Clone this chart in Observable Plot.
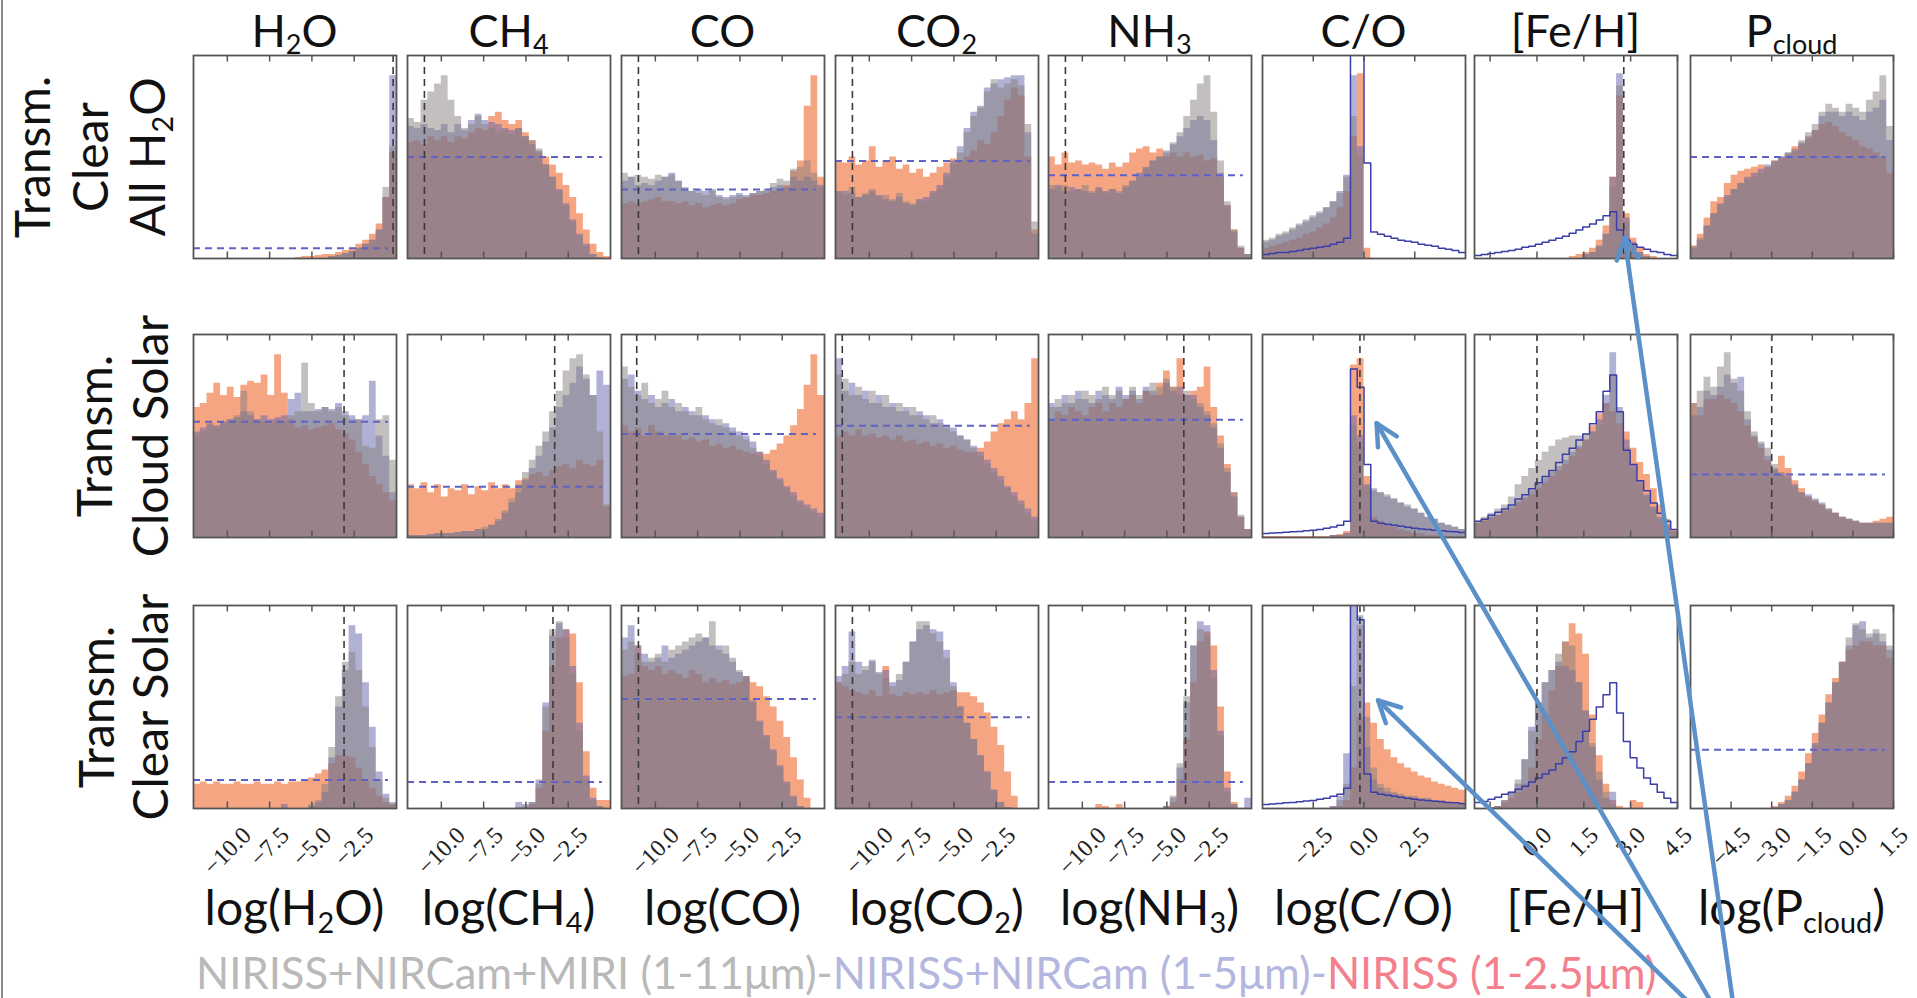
<!DOCTYPE html>
<html><head><meta charset="utf-8">
<script src="https://cdn.jsdelivr.net/npm/d3@7"></script>
<script src="https://cdn.jsdelivr.net/npm/@observablehq/plot@0.6"></script>
<style>
body{margin:0;background:#fff;}
#page{position:relative;width:1917px;height:998px;overflow:hidden;font-family:Lato,"Open Sans",sans-serif;color:#111;background:#fff;}
.panel{position:absolute;}
.panel svg{overflow:visible;background:transparent;}
.title{position:absolute;transform:translate(-50%,-50%);white-space:nowrap;font-size:45px;line-height:1;}
.rowlab{position:absolute;transform:translate(-50%,-50%) rotate(-90deg);white-space:nowrap;font-size:48px;line-height:1;}
.xlab{position:absolute;transform:translate(-50%,-50%);white-space:nowrap;font-size:48px;line-height:1;}
.legend{position:absolute;white-space:nowrap;font-size:43.5px;line-height:1;transform:translateY(-50%);}
sub{font-size:0.6em;vertical-align:-0.28em;line-height:0;}
</style></head><body><div id="page"></div>
<script>
// ---------------- categories / labels ----------------
const columnTitles = ["H<sub>2</sub>O","CH<sub>4</sub>","CO","CO<sub>2</sub>","NH<sub>3</sub>","C/O","[Fe/H]","P<sub>cloud</sub>"];
const axisLabels = ["log(H<sub>2</sub>O)","log(CH<sub>4</sub>)","log(CO)","log(CO<sub>2</sub>)","log(NH<sub>3</sub>)","log(C/O)","[Fe/H]","log(P<sub>cloud</sub>)"];
const rowLabels = [["Transm.","Clear","All H<sub>2</sub>O"],["Transm.","Cloud Solar"],["Transm.","Clear Solar"]];
const legendParts = [["NIRISS+NIRCam+MIRI (1-11μm)-","#b9b9b9"],["NIRISS+NIRCam (1-5μm)-","#b3b7e0"],["NIRISS (1-2.5μm)","#f4808e"]];
const xDomains = [[-12,0],[-12,0],[-12,0],[-12,0],[-12,0],[-5,5],[-2,4.5],[-6,1.5]];
const tickValues = [[-10,-7.5,-5,-2.5],[-10,-7.5,-5,-2.5],[-10,-7.5,-5,-2.5],[-10,-7.5,-5,-2.5],[-10,-7.5,-5,-2.5],[-2.5,0,2.5],[-1.5,0,1.5,3,4.5],[-4.5,-3,-1.5,0,1.5]];
const tickLabels = [["−10.0","−7.5","−5.0","−2.5"],["−10.0","−7.5","−5.0","−2.5"],["−10.0","−7.5","−5.0","−2.5"],["−10.0","−7.5","−5.0","−2.5"],["−10.0","−7.5","−5.0","−2.5"],["−2.5","0.0","2.5"],["","0.0","1.5","3.0","4.5"],["−4.5","−3.0","−1.5","0.0","1.5"]];

// true values (black dashed) and flat prior levels (blue dashed), per row
const truthR1 = [-0.2,-11,-11,-11,-11,null,2.78,null];
const truthR2 = [-3.1,-3.3,-11.1,-11.6,-4.0,-0.2,0,-3.0];
const truthR3 = [-3.1,-3.4,-11,-11,-3.9,-0.2,0,null];
const priorLevelR1 = [5,50,34,48,41,null,null,50];
const priorLevelR2 = [57,25,51,55,58,null,null,31];
const priorLevelR3 = [14,13,54,45,13,null,null,29];

// ---------------- histograms (30 bins across each x domain, % of panel height) ----------------
// Row 1: Transm. Clear All H2O
const H2O_r1_gray   = [0,0,0,0,0,0,0,0,0,0,0,0,0,0,0,0,0,0,0,0,1,1.5,2.5,3.5,5,7,9,14,35,55];
const H2O_r1_blue   = [0,0,0,0,0,0,0,0,0,0,0,0,0,0,0,0,0,0,0,0,1,1.5,2.5,3.5,5,7,9,14,30,90];
const H2O_r1_orange = [0,0,0,0,0,0,0,0,0,0,0,0,0,0,0,0.5,1,1,1.5,2,2,3,4,5,7,9,12,17,30,52];
const CH4_r1_gray   = [69,67,78,82,86,90,78,70,64,66,70,66,64,62,63,61,64,60,58,54,46,40,33,26,18,11,6,2,0.5,0];
const CH4_r1_blue   = [65,64,66,64,63,66,62,66,63,68,71,68,67,66,64,63,64,60,56,53,46,40,34,27,19,12,7,2,0.5,0];
const CH4_r1_orange = [57,58,56,60,58,60,57,60,59,62,64,63,70,72,68,66,68,62,58,52,50,46,42,36,30,22,14,7,3,1];
const CO_r1_gray    = [42,40,41,40,39,41,40,41,38,35,33,32,31,33,30,29,30,31,30,32,33,34,37,39,38,44,45,48,42,35];
const CO_r1_blue    = [38,40,36,37,36,38,40,42,38,34,33,34,33,34,31,30,31,32,31,32,33,33,35,36,35,40,38,40,38,36];
const CO_r1_orange  = [27,28,27,28,29,30,28,28,27,28,26,27,25,26,27,26,27,29,30,31,31,32,33,34,36,43,48,75,90,40];
const CO2_r1_gray   = [33,31,35,30,32,34,30,31,29,32,28,27,29,28,32,34,40,46,52,62,70,74,82,88,84,86,88,85,66,18];
const CO2_r1_blue   = [33,33,32,30,31,33,31,29,28,30,27,26,29,30,33,36,42,48,55,64,72,75,84,86,88,89,90,90,62,12];
const CO2_r1_orange = [48,47,50,46,48,55,45,48,50,44,46,42,44,40,42,45,47,49,48,50,53,58,56,62,70,78,84,80,50,14];
const NH3_r1_gray   = [36,35,36,33,34,36,33,34,32,34,33,36,38,40,44,48,50,52,57,62,70,78,86,90,72,48,28,14,6,2];
const NH3_r1_blue   = [34,36,33,35,34,33,32,35,33,34,32,35,38,42,45,48,50,53,56,60,64,68,70,68,58,42,26,13,5,2];
const NH3_r1_orange = [50,46,52,47,48,46,47,46,44,47,45,47,52,54,55,52,54,50,52,50,52,50,51,48,49,40,26,14,5,2];
const CtoO_r1_gray   = [9,10,12,13,15,17,19,21,23,25,28,32,40,70,50,0,0,0,0,0,0,0,0,0,0,0,0,0,0,0];
const CtoO_r1_blue   = [8,9,11,12,14,16,18,20,22,25,28,33,41,90,55,0,0,0,0,0,0,0,0,0,0,0,0,0,0,0];
const CtoO_r1_orange = [5,6,7,8,9,10,12,13,15,17,20,25,33,60,91,5,0,0,0,0,0,0,0,0,0,0,0,0,0,0];
const CtoO_r1_prior  = [2,2.5,3,3,3.5,4,4.5,5,5.5,6,7,8,10,110,110,47,13,12,11,10,9,8.5,8,7,6.5,6,5,4.5,4,3];
const FeH_r1_gray    = [0,0,0,0,0,0,0,0,0,0,0,0,0,0,0,0,2,3,6,12,35,85,18,7,3,1,0,0,0,0];
const FeH_r1_blue    = [0,0,0,0,0,0,0,0,0,0,0,0,0,0,0,0,2,3,6,12,40,91,20,8,3,1,0,0,0,0];
const FeH_r1_orange  = [0,0,0,0,0,0,0,0,0,0,0,0,0,0,1,2,3,5,9,16,40,80,22,10,5,2,1,0,0,0];
const FeH_r1_prior   = [1.5,2,2.5,3,3.5,4,4.5,5.5,6,7,8,9,10,11,12.5,14,15.5,17,19,21,23,14,9,7,5.5,4.5,3.5,3,2,1.5];
const Pc_r1_gray     = [6,10,16,22,26,30,34,37,39,40,42,45,47,49,52,54,58,62,66,72,76,74,72,76,74,72,78,82,90,65];
const Pc_r1_blue     = [5,9,16,22,27,31,34,37,40,42,44,46,48,50,52,53,57,60,63,70,72,72,70,72,70,68,72,74,78,58];
const Pc_r1_orange   = [6,12,20,28,30,37,41,43,44,45,46,45,48,50,51,55,56,59,63,66,67,65,62,60,58,55,54,52,50,42];

// Row 2: Transm. Cloud Solar
const H2O_r2_gray   = [50,52,55,54,56,58,60,72,62,58,57,56,58,57,60,62,86,66,62,64,62,64,60,58,58,45,44,58,60,38];
const H2O_r2_blue   = [52,54,56,55,57,58,59,62,60,58,60,58,59,60,68,71,62,62,63,64,63,66,62,60,58,60,77,50,40,22];
const H2O_r2_orange = [64,66,71,76,70,74,69,75,77,76,80,70,90,71,58,54,55,53,54,55,56,53,51,48,42,36,30,26,22,18];
const CH4_r2_gray   = [1,1,1,1.5,2,2,2,2.5,3,3,4,5,6,9,13,19,26,32,38,45,52,62,72,82,88,90,80,70,52,16];
const CH4_r2_blue   = [1,1,1,1.5,2,2,2,2.5,3,3,4,4,6,8,12,17,22,28,34,40,47,54,64,70,76,84,78,70,82,75];
const CH4_r2_orange = [26,24,27,22,26,20,24,23,26,21,25,23,27,24,26,24,28,29,31,32,30,33,35,36,34,38,36,35,38,15];
const CO_r2_gray    = [84,74,70,76,66,68,72,64,66,62,60,64,58,56,58,54,52,50,48,44,40,36,32,28,24,20,17,14,12,10];
const CO_r2_blue    = [78,80,72,68,70,64,66,68,62,64,62,60,60,58,55,56,54,52,50,47,42,38,33,29,25,22,18,16,14,12];
const CO_r2_orange  = [55,52,54,50,55,52,50,51,50,48,49,47,48,45,46,44,45,43,42,41,42,41,43,46,50,55,63,75,90,70];
const CO2_r2_gray   = [80,78,70,74,68,72,66,70,64,66,62,64,60,58,60,56,55,52,50,48,44,40,36,32,28,24,20,16,12,8];
const CO2_r2_blue   = [88,72,76,70,72,66,70,64,66,62,64,60,62,60,56,58,54,54,50,48,45,42,38,34,30,25,22,18,14,10];
const CO2_r2_orange = [50,52,50,53,50,51,49,50,48,50,47,48,46,47,45,46,44,45,43,42,42,44,47,52,56,58,62,58,66,88];
const NH3_r2_gray   = [64,68,66,70,68,72,70,68,74,70,72,68,74,70,72,76,74,78,74,70,72,68,66,62,56,46,34,22,11,4];
const NH3_r2_blue   = [66,64,70,66,72,68,66,72,70,68,74,70,72,68,74,72,70,76,72,74,70,70,64,60,54,44,32,20,10,4];
const NH3_r2_orange = [58,62,60,64,62,60,64,66,62,66,64,68,70,66,72,70,76,82,74,88,70,72,74,84,64,50,36,22,10,4];
const CtoO_r2_gray   = [0,0,0,0,0,0,0,0,0,0,1,1,2,55,45,25,23,22,21,19,17,16,14,12,10,9,7,6,5,4];
const CtoO_r2_blue   = [0,0,0,0,0,0,0,0,0,0,1,1,2,60,50,26,24,22,20,19,17,15,14,12,10,9,7,6,5,4];
const CtoO_r2_orange = [0.5,0.5,0.5,0.5,0.5,0.5,0.5,0.5,0.5,0.5,1,1.5,3,85,88,30,10,8,6,5,4,3,2,2,1,1,0.5,0.5,0.5,0.5];
const CtoO_r2_prior  = [2,2.2,2.4,2.6,2.8,3,3.3,3.6,4,4.5,5.2,6,8,83,74,36,8,7,6.5,6,5.5,5,4.5,4.2,4,3.6,3.3,3,2.8,2.5];
const FeH_r2_gray    = [8,10,12,14,16,20,26,30,34,38,42,45,48,49,50,50,51,52,55,66,80,62,44,34,26,20,14,9,5,3];
const FeH_r2_blue    = [7,8,10,11,13,15,18,20,23,26,29,32,35,38,42,45,48,52,58,70,91,64,48,36,28,21,15,10,6,3];
const FeH_r2_orange  = [7,9,10,11,13,14,17,19,21,24,27,30,33,36,40,44,48,55,61,66,62,56,52,44,37,31,24,16,9,4];
const FeH_r2_prior   = [8,9,11,12.5,14,16,19,21,24,27,30,33,37,41,44,48,51,56,62,72,80,62,43,36,28,23,17,12,8,4];
const Pc_r2_gray     = [66,72,79,74,84,91,78,72,62,52,47,44,36,32,29,25,22,20,18,16,14,12,10,9,8,7,7,7,7,7];
const Pc_r2_blue     = [60,64,72,70,74,80,76,79,58,50,46,40,34,31,30,26,22,21,19,17,14,12,10,9,8,7,7,7,7,7];
const Pc_r2_orange   = [66,60,68,68,70,68,66,62,55,49,44,38,33,40,34,28,24,20,18,16,13,12,10,9,8,7,7,8,9,10];

// Row 3: Transm. Clear Solar
const H2O_r3_gray   = [0,0,0,0,0,0,0,0,0,0,0,0,0,0,0,0,0,2,4,12,30,55,72,77,68,50,30,14,5,2];
const H2O_r3_blue   = [0,0,0,0,0,0,0,0,0,0,0,0,0,2,0,0,0,1,3,8,25,50,68,90,86,62,40,18,7,3];
const H2O_r3_orange = [12,13,12,13,12,12,13,12,12,13,12,12,13,12,13,13,14,15,17,19,22,26,26,25,20,14,10,6,3,2];
const CH4_r3_gray   = [0,0,0,0,0,0,0,0,0,0,0,0,0,0,0,0,0.5,1,3,12,50,88,92,84,66,38,14,4,1,0];
const CH4_r3_blue   = [0,0,0,0,0,0,0,0,0,0,0,0,0,0,0,0,3,2,3,14,52,85,91,88,70,42,16,5,1,0];
const CH4_r3_orange = [0,0,0,0,0,0,0,0,0,0,0,0,0,0,0,0,0,0.5,2,10,38,70,84,88,86,62,28,10,4,4];
const CO_r3_gray    = [78,82,76,72,74,76,72,78,80,82,84,86,84,92,78,80,74,68,64,52,42,35,28,20,12,5,1,0,0,0];
const CO_r3_blue    = [84,90,80,76,72,74,80,74,76,78,80,82,84,80,80,76,72,67,65,53,43,36,29,21,13,6,1,0,0,0];
const CO_r3_orange  = [65,66,80,70,68,70,66,68,66,64,68,66,62,64,62,63,61,62,65,62,60,55,50,43,35,25,14,5,0,0];
const CO2_r3_gray   = [62,66,72,66,70,72,66,64,60,66,72,82,92,92,86,82,74,60,50,42,34,26,18,9,3,0.5,0,0,0,0];
const CO2_r3_blue   = [65,70,87,72,68,73,67,68,62,63,72,82,88,90,88,87,78,62,50,42,34,26,18,9,3,0.5,0,0,0,0];
const CO2_r3_orange = [62,60,58,57,56,58,55,70,56,55,57,56,57,56,58,56,57,58,57,57,55,52,47,40,31,18,6,0,0,0];
const NH3_r3_gray   = [0,0,0,0,0,0,0,0,0,0,0,0,0,0,0,0,0,1,6,22,55,80,88,85,64,36,8,2,0,0];
const NH3_r3_blue   = [0,0,0,0,0,0,0,0,0,0,0,0,0,0,0,0,0,1,5,20,52,80,92,90,68,38,10,2,0,5];
const NH3_r3_orange = [0,0,0,0,0,0,0,2,1,0,2,0,0,0,0,0,0,1,3,14,34,62,82,87,80,50,18,3,0,0];
const CtoO_r3_gray   = [0,0,0,0,0,0,0,0,0,0,1,4,12,60,90,45,20,12,10,8,7,6,6,5,5,4,4,3,3,2];
const CtoO_r3_blue   = [0,0,0,0,0,0,0,0,0,0,1,6,27,105,95,30,14,10,8,7,6,5,5,4,4,3,3,3,2,2];
const CtoO_r3_orange = [0,0,0,0,0,0,0,0,0,0,0.5,1,4,20,45,52,42,34,29,25,22,20,18,16,15,13,12,11,10,9];
const CtoO_r3_prior  = [2,2.2,2.5,2.8,3,3.3,3.7,4,4.5,5,6,7,10,110,93,17,8,7,6.5,6,5.5,5,4.5,4.2,4,3.6,3.3,3,2.8,2.5];
const FeH_r3_gray    = [0,0,0.5,1,4,8,14,24,38,52,62,68,76,82,80,62,48,32,18,8,2,0,0,0,0,0,0,0,0,0];
const FeH_r3_blue    = [0,0,0.5,1,4,8,12,24,40,52,62,68,72,70,68,62,48,30,14,5,8,0,0,0,0,0,0,0,0,0];
const FeH_r3_orange  = [0,0,0.5,1,3,5,8,12,20,34,46,58,70,82,91,86,76,46,26,12,4,1,0,4,3,0,0,0,0,0];
const FeH_r3_prior   = [3,3.5,4.5,5.5,7,8,9.5,11,13,15,17,19,22,25,28,33,38,44,50,56,62,47,33,25,20,15,12,8,5,3];
const Pc_r3_gray     = [0,0,0,0,0,0,0,0,0,0,0,0,0.5,2,4,8,14,22,31,42,52,62,72,84,91,88,86,88,86,80];
const Pc_r3_blue     = [0,0,0,0,0,0,0,0,0,0,0,0,0.5,2,4,8,14,22,32,42,52,62,72,80,90,92,84,86,82,78];
const Pc_r3_orange   = [0,0,0,0,0,0,0,0,0,0,0,0,1,3,6,11,18,27,37,46,56,64,72,78,80,82,82,80,80,74];

// ---------------- assemble tables ----------------
const histRows = [
  [[H2O_r1_gray,H2O_r1_blue,H2O_r1_orange],[CH4_r1_gray,CH4_r1_blue,CH4_r1_orange],[CO_r1_gray,CO_r1_blue,CO_r1_orange],[CO2_r1_gray,CO2_r1_blue,CO2_r1_orange],[NH3_r1_gray,NH3_r1_blue,NH3_r1_orange],[CtoO_r1_gray,CtoO_r1_blue,CtoO_r1_orange],[FeH_r1_gray,FeH_r1_blue,FeH_r1_orange],[Pc_r1_gray,Pc_r1_blue,Pc_r1_orange]],
  [[H2O_r2_gray,H2O_r2_blue,H2O_r2_orange],[CH4_r2_gray,CH4_r2_blue,CH4_r2_orange],[CO_r2_gray,CO_r2_blue,CO_r2_orange],[CO2_r2_gray,CO2_r2_blue,CO2_r2_orange],[NH3_r2_gray,NH3_r2_blue,NH3_r2_orange],[CtoO_r2_gray,CtoO_r2_blue,CtoO_r2_orange],[FeH_r2_gray,FeH_r2_blue,FeH_r2_orange],[Pc_r2_gray,Pc_r2_blue,Pc_r2_orange]],
  [[H2O_r3_gray,H2O_r3_blue,H2O_r3_orange],[CH4_r3_gray,CH4_r3_blue,CH4_r3_orange],[CO_r3_gray,CO_r3_blue,CO_r3_orange],[CO2_r3_gray,CO2_r3_blue,CO2_r3_orange],[NH3_r3_gray,NH3_r3_blue,NH3_r3_orange],[CtoO_r3_gray,CtoO_r3_blue,CtoO_r3_orange],[FeH_r3_gray,FeH_r3_blue,FeH_r3_orange],[Pc_r3_gray,Pc_r3_blue,Pc_r3_orange]]
];
const priorSteps = [
  {5: CtoO_r1_prior, 6: FeH_r1_prior},
  {5: CtoO_r2_prior, 6: FeH_r2_prior},
  {5: CtoO_r3_prior, 6: FeH_r3_prior}
];
const truths = [truthR1, truthR2, truthR3];
const priorLevels = [priorLevelR1, priorLevelR2, priorLevelR3];

// ---------------- layout / style ----------------
const colLeft = [193, 407, 621, 835, 1048, 1262, 1474, 1690];
const rowTop = [55, 334, 605];
const PW = 203, PH = 203;
const FILL = {gray: "#867f7d", blue: "#6464ac", orange: "#eb4b05"};
const FILL_OPACITY = 0.5;
const TICK_FONT = 24;
const measure = document.createElement("canvas").getContext("2d");
measure.font = `${TICK_FONT}px "Liberation Serif"`;

const page = document.getElementById("page");
const panels = [];

function steps(arr, x0, x1) {
  const n = arr.length, bw = (x1 - x0) / n;
  return arr.map((v, i) => ({x: x0 + i * bw, y: v})).concat([{x: x1, y: arr[n - 1]}]);
}

for (let r = 0; r < 3; r++) {
  panels.push([]);
  for (let c = 0; c < 8; c++) {
    const [x0, x1] = xDomains[c];
    const [g, b, o] = histRows[r][c];
    const marks = [];
    marks.push(Plot.areaY(steps(o, x0, x1), {x: "x", y: "y", curve: "step-after", fill: FILL.orange, fillOpacity: FILL_OPACITY, clip: true}));
    marks.push(Plot.areaY(steps(b, x0, x1), {x: "x", y: "y", curve: "step-after", fill: FILL.blue, fillOpacity: FILL_OPACITY, clip: true}));
    marks.push(Plot.areaY(steps(g, x0, x1), {x: "x", y: "y", curve: "step-after", fill: FILL.gray, fillOpacity: FILL_OPACITY, clip: true}));
    const pr = priorSteps[r][c];
    if (pr) marks.push(Plot.lineY(steps(pr, x0, x1), {x: "x", y: "y", curve: "step-after", stroke: "#3b3ea8", strokeWidth: 1.5, clip: true}));
    const lvl = priorLevels[r][c];
    if (lvl != null) marks.push(Plot.ruleY([lvl], {x1: x0, x2: x1 - 0.04 * (x1 - x0), stroke: "#5f62c6", strokeWidth: 2, strokeDasharray: "7,5"}));
    const t = truths[r][c];
    if (t != null) marks.push(Plot.ruleX([t], {stroke: "#3a3a3a", strokeWidth: 1.6, strokeDasharray: "7,5"}));
    marks.push(Plot.ruleX(tickValues[c], {x: d => d, y1: 0, y2: 3.2, stroke: "#555", strokeWidth: 1.5}));
    marks.push(Plot.ruleX(tickValues[c], {x: d => d, y1: 96.8, y2: 100, stroke: "#555", strokeWidth: 1.5}));
    marks.push(Plot.frame({stroke: "#555", strokeWidth: 1.8}));
    if (r === 2) {
      tickValues[c].forEach((v, i) => {
        const lab = tickLabels[c][i];
        if (!lab) return;
        const L = measure.measureText(lab).width, h = TICK_FONT * 0.7;
        const dy = 17 + (L + h) * 0.7071 / 2;
        marks.push(Plot.text([v], {x: d => d, text: () => lab, frameAnchor: "bottom", dy, rotate: -45, textAnchor: "middle", lineAnchor: "middle", fontSize: TICK_FONT, fontFamily: "Liberation Serif", fill: "#222"}));
      });
    }
    const plot = Plot.plot({
      width: PW, height: PH, marginTop: 0, marginRight: 0, marginBottom: 0, marginLeft: 0,
      x: {domain: [x0, x1], axis: null},
      y: {domain: [0, 100], axis: null},
      style: {overflow: "visible", background: "transparent"},
      marks
    });
    const div = document.createElement("div");
    div.className = "panel";
    div.style.left = colLeft[c] + "px";
    div.style.top = rowTop[r] + "px";
    div.appendChild(plot);
    page.appendChild(div);
    panels[r].push(plot);
  }
}

// column titles and x-axis labels
columnTitles.forEach((t, c) => {
  const d = document.createElement("div");
  d.className = "title"; d.innerHTML = t;
  d.style.left = (colLeft[c] + PW / 2) + "px"; d.style.top = "30px";
  page.appendChild(d);
  const e = document.createElement("div");
  e.className = "xlab"; e.innerHTML = axisLabels[c];
  e.style.left = (colLeft[c] + PW / 2) + "px"; e.style.top = "907px";
  page.appendChild(e);
});

// row labels
const rowLineX = [[32, 90, 147], [94, 150], [96, 150]];
rowLabels.forEach((lines, r) => {
  lines.forEach((txt, i) => {
    const d = document.createElement("div");
    d.className = "rowlab"; d.innerHTML = txt;
    d.style.left = rowLineX[r][i] + "px";
    d.style.top = (rowTop[r] + PH / 2) + "px";
    page.appendChild(d);
  });
});

// legend line
const leg = document.createElement("div");
leg.className = "legend";
leg.style.left = "196px"; leg.style.top = "973px";
leg.innerHTML = legendParts.map(([t, col]) => `<span style="color:${col}">${t}</span>`).join("");
page.appendChild(leg);

// left border
const border = document.createElement("div");
border.style.cssText = "position:absolute;left:1px;top:0;width:2px;height:998px;background:#8a8a8a;";
page.appendChild(border);

// annotation arrows (tips placed through each panel's scales)
const arrowTargets = [{row: 0, col: 6, x: 2.82, y: 10}, {row: 1, col: 5, x: 0.65, y: 56}, {row: 2, col: 5, x: 0.72, y: 53}];
const arrowOrigin = [1740, 1052];
const overlay = d3.create("svg").attr("width", 1917).attr("height", 998)
  .style("position", "absolute").style("left", 0).style("top", 0).style("pointer-events", "none");
arrowTargets.forEach(a => {
  const p = panels[a.row][a.col];
  const tx = colLeft[a.col] + p.scale("x").apply(a.x);
  const ty = rowTop[a.row] + p.scale("y").apply(a.y);
  const [ox, oy] = arrowOrigin;
  const len = Math.hypot(ox - tx, oy - ty), ux = (ox - tx) / len, uy = (oy - ty) / len;
  const g = overlay.append("g").attr("stroke", "#5b90c9").attr("stroke-width", 4.5).attr("stroke-linecap", "round").attr("fill", "none");
  g.append("line").attr("x1", ox).attr("y1", oy).attr("x2", tx).attr("y2", ty);
  const head = 24, ang = 27 * Math.PI / 180;
  [ang, -ang].forEach(th => {
    const hx = ux * Math.cos(th) - uy * Math.sin(th), hy = ux * Math.sin(th) + uy * Math.cos(th);
    g.append("line").attr("x1", tx).attr("y1", ty).attr("x2", tx + hx * head).attr("y2", ty + hy * head);
  });
});
page.appendChild(overlay.node());
</script></body></html>
